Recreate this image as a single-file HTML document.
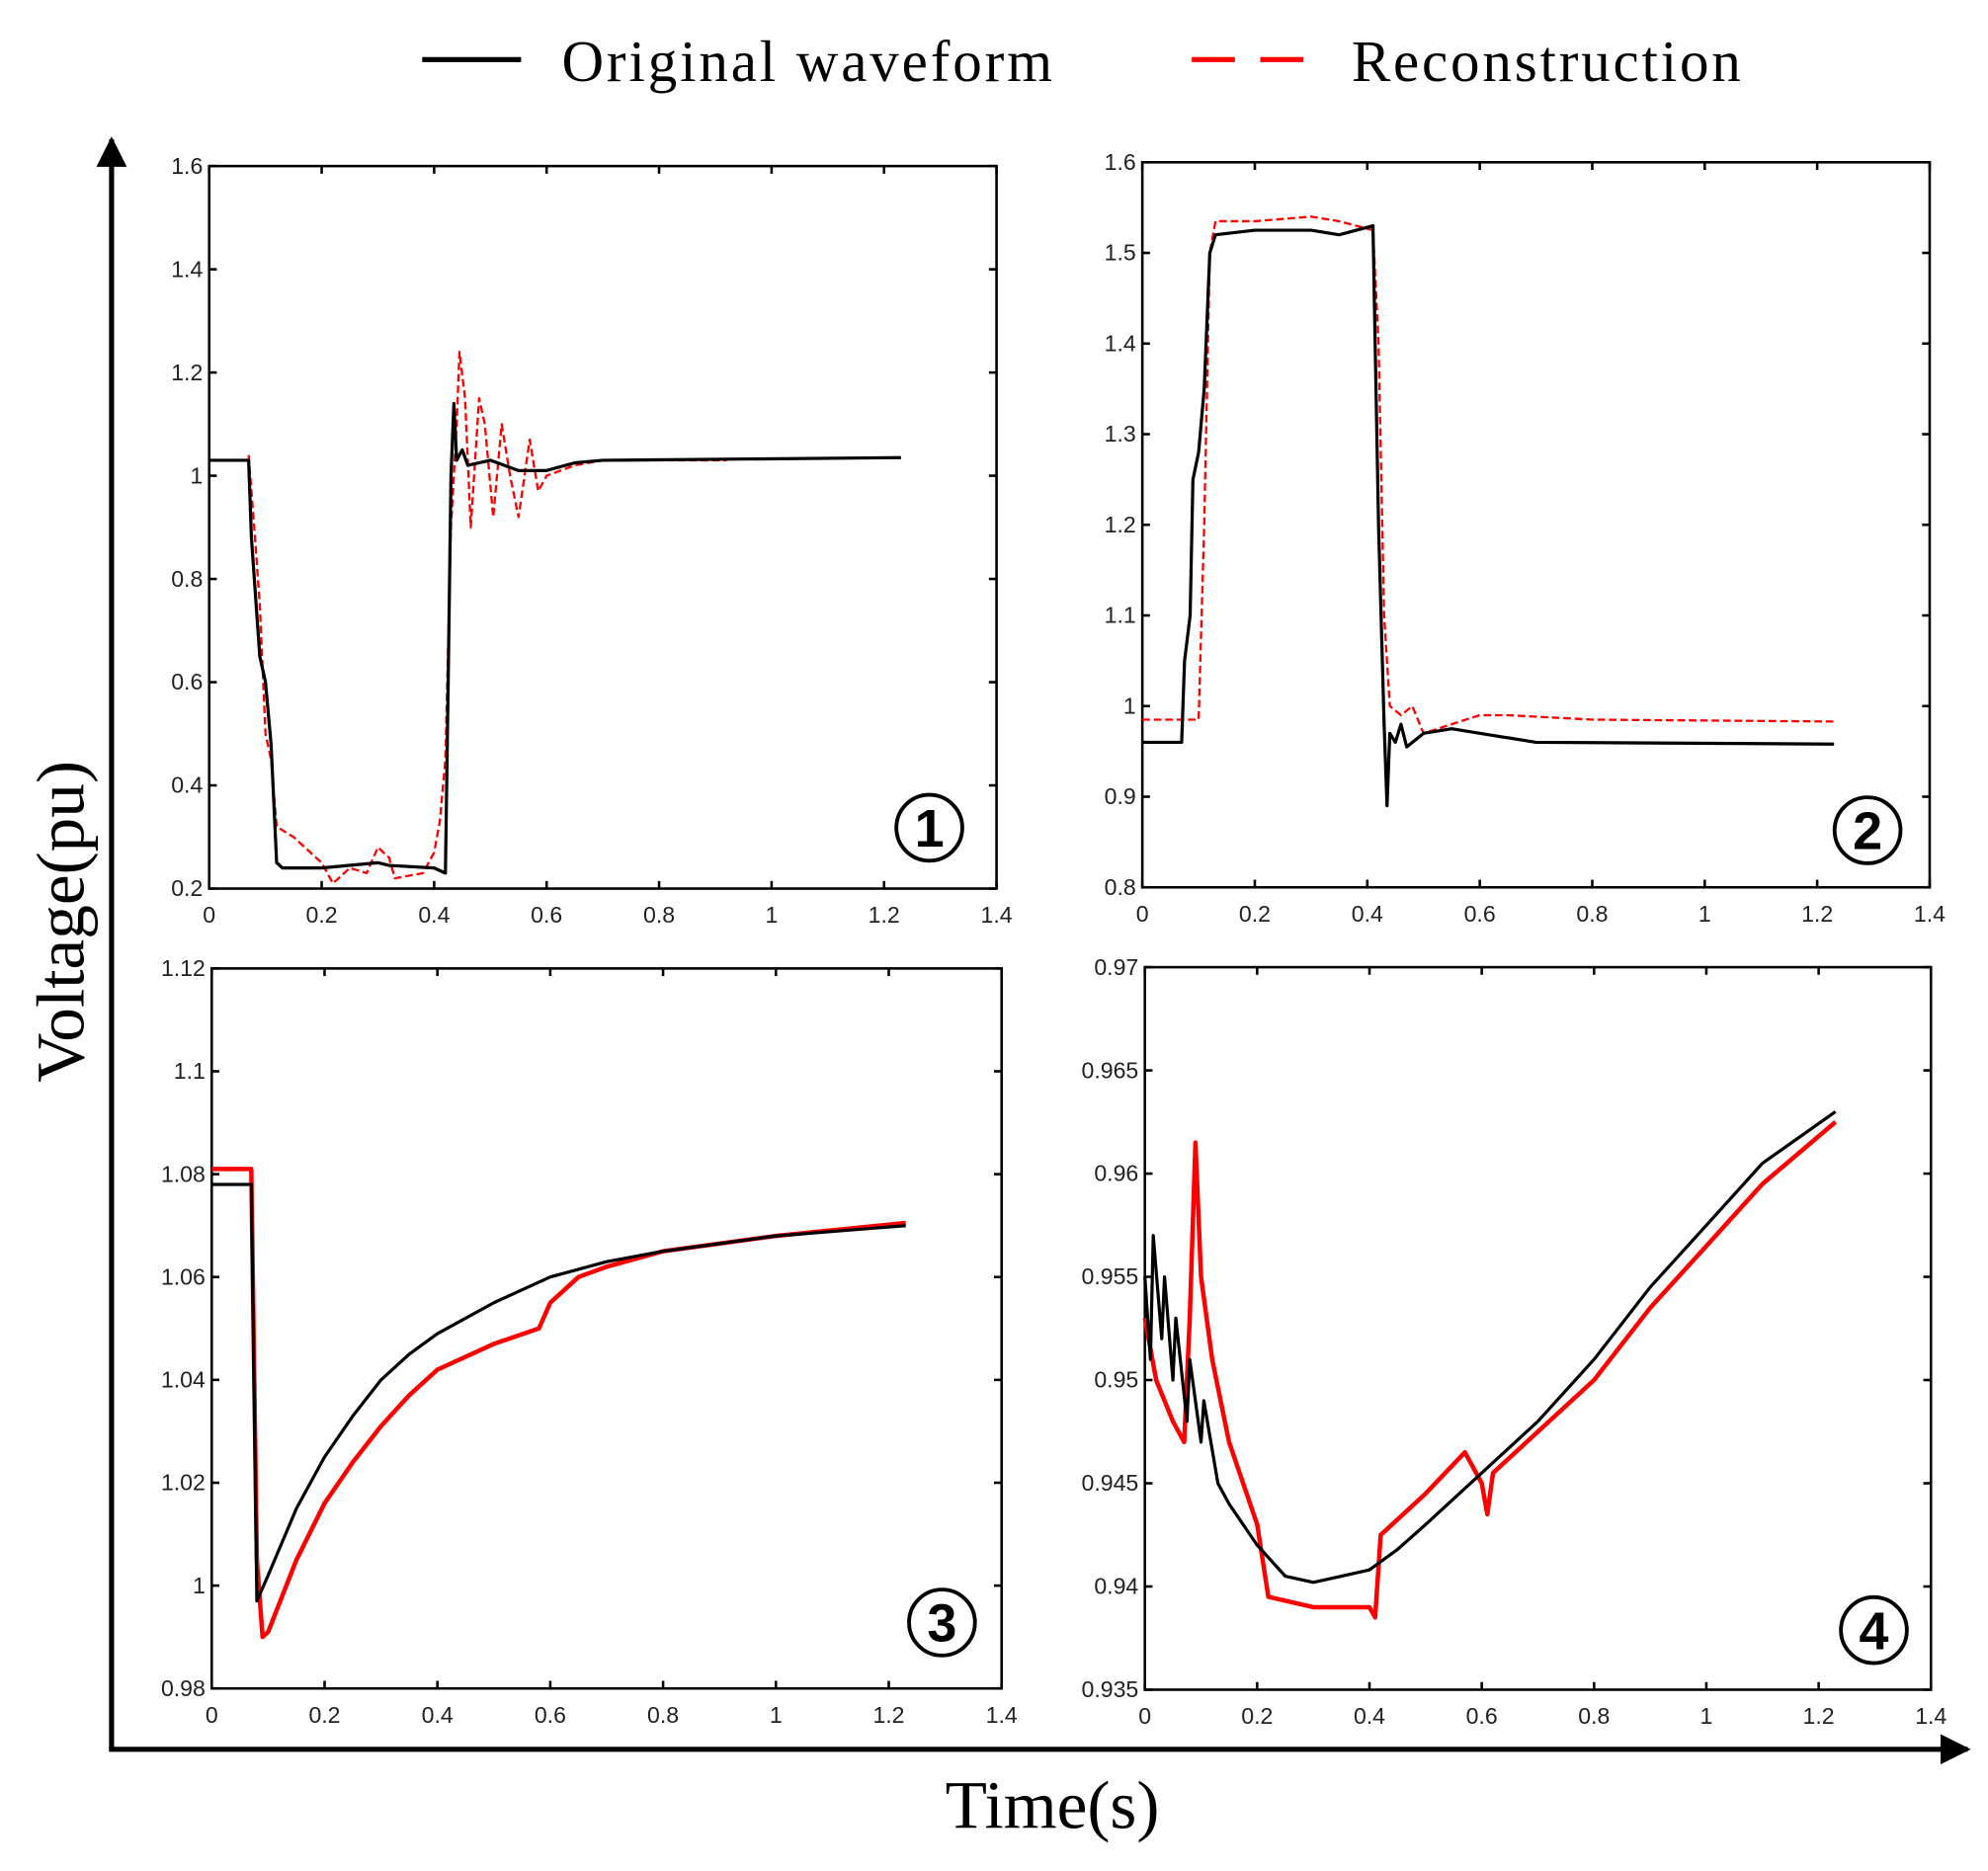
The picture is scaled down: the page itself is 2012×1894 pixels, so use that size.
<!DOCTYPE html>
<html><head><meta charset="utf-8"><style>
html,body{margin:0;padding:0;background:#fff;}
svg{display:block;}
text{font-family:"Liberation Sans",Arial,sans-serif;}
.serif{font-family:"Liberation Serif","Times New Roman",serif;}
</style></head><body>
<svg id="fig" width="2012" height="1894" viewBox="0 0 1568 1476" xmlns="http://www.w3.org/2000/svg">
<defs>
<marker id="ah" viewBox="0 0 10 10" refX="9" refY="5" markerWidth="6" markerHeight="6" orient="auto"><path d="M0,0 L10,5 L0,10 z" fill="#000"/></marker>
</defs>
<g>
<line x1="333" y1="47" x2="411" y2="47" stroke="#000" stroke-width="4"/>
<text x="443" y="64" class="serif" font-size="46" textLength="387" lengthAdjust="spacing">Original waveform</text>
<line x1="940" y1="47" x2="1043" y2="47" stroke="#f00" stroke-width="4" stroke-dasharray="34,20"/>
<text x="1066" y="64" class="serif" font-size="46" textLength="307" lengthAdjust="spacing">Reconstruction</text>
</g>
<line x1="88" y1="1380" x2="88" y2="110" stroke="#000" stroke-width="4" marker-end="url(#ah)"/>
<line x1="86" y1="1380" x2="1552" y2="1380" stroke="#000" stroke-width="4" marker-end="url(#ah)"/>
<text x="0" y="0" class="serif" font-size="54" text-anchor="middle" transform="translate(66,727) rotate(-90)">Voltage(pu)</text>
<text x="830" y="1442" class="serif" font-size="54" text-anchor="middle">Time(s)</text>
<g id="plots"></g>
</svg>
<script>
// Panel 1 data
const p1Black = [[0,1.03],[0.07,1.03],[0.075,0.88],[0.09,0.65],[0.1,0.6],[0.11,0.48],[0.12,0.25],[0.13,0.24],[0.2,0.24],[0.3,0.25],[0.32,0.245],[0.4,0.24],[0.42,0.23],[0.425,0.6],[0.43,1.0],[0.435,1.14],[0.44,1.03],[0.45,1.05],[0.46,1.02],[0.5,1.03],[0.55,1.01],[0.6,1.01],[0.65,1.025],[0.7,1.03],[1.23,1.035]];
const p1Red = [[0.07,1.04],[0.08,0.9],[0.09,0.75],[0.1,0.5],[0.11,0.45],[0.12,0.32],[0.15,0.3],[0.2,0.25],[0.22,0.21],[0.25,0.24],[0.28,0.23],[0.3,0.28],[0.32,0.26],[0.33,0.22],[0.38,0.23],[0.4,0.27],[0.41,0.33],[0.42,0.45],[0.43,0.9],[0.44,1.1],[0.445,1.24],[0.455,1.15],[0.465,0.9],[0.48,1.15],[0.49,1.1],[0.505,0.92],[0.52,1.1],[0.535,1.0],[0.55,0.92],[0.57,1.07],[0.585,0.97],[0.6,1.0],[0.65,1.02],[0.7,1.03],[0.8,1.03],[0.92,1.03]];
const p1YTicks = ["0.2","0.4","0.6","0.8","1","1.2","1.4","1.6"];
// Panel 2 data
const p2Black = [[0,0.96],[0.07,0.96],[0.075,1.05],[0.085,1.1],[0.09,1.25],[0.1,1.28],[0.11,1.35],[0.12,1.5],[0.13,1.52],[0.2,1.525],[0.3,1.525],[0.35,1.52],[0.41,1.53],[0.42,1.2],[0.43,0.98],[0.435,0.89],[0.44,0.97],[0.45,0.96],[0.46,0.98],[0.47,0.955],[0.5,0.97],[0.55,0.975],[0.6,0.97],[0.7,0.96],[1.23,0.958]];
const p2Red = [[0,0.985],[0.1,0.985],[0.11,1.2],[0.12,1.5],[0.13,1.535],[0.2,1.535],[0.3,1.54],[0.35,1.535],[0.41,1.525],[0.42,1.4],[0.43,1.1],[0.44,1.0],[0.46,0.99],[0.48,1.0],[0.5,0.97],[0.55,0.98],[0.6,0.99],[0.65,0.99],[0.8,0.985],[1.23,0.983]];
const p2YTicks = ["0.8","0.9","1","1.1","1.2","1.3","1.4","1.5","1.6"];
// Panel 3 data
const p3Black = [[0,1.078],[0.07,1.078],[0.08,0.997],[0.1,1.002],[0.15,1.015],[0.2,1.025],[0.25,1.033],[0.3,1.04],[0.35,1.045],[0.4,1.049],[0.5,1.055],[0.6,1.06],[0.7,1.063],[0.8,1.065],[1.0,1.068],[1.23,1.07]];
const p3Red = [[0,1.081],[0.07,1.081],[0.08,1.005],[0.09,0.99],[0.1,0.991],[0.15,1.005],[0.2,1.016],[0.25,1.024],[0.3,1.031],[0.35,1.037],[0.4,1.042],[0.5,1.047],[0.58,1.05],[0.6,1.055],[0.65,1.06],[0.7,1.062],[0.8,1.065],[1.0,1.068],[1.23,1.0705]];
const p3YTicks = ["0.98","1","1.02","1.04","1.06","1.08","1.1","1.12"];
// Panel 4 data
const p4Black = [[0,0.955],[0.01,0.951],[0.015,0.957],[0.03,0.952],[0.035,0.955],[0.05,0.95],[0.055,0.953],[0.075,0.948],[0.08,0.951],[0.1,0.947],[0.105,0.949],[0.13,0.945],[0.15,0.944],[0.2,0.942],[0.25,0.9405],[0.3,0.9402],[0.35,0.9405],[0.4,0.9408],[0.45,0.9418],[0.5,0.943],[0.6,0.9455],[0.7,0.948],[0.8,0.951],[0.9,0.9545],[1.0,0.9575],[1.1,0.9605],[1.23,0.963]];
const p4Red = [[0,0.953],[0.02,0.95],[0.05,0.948],[0.07,0.947],[0.08,0.953],[0.09,0.9615],[0.1,0.955],[0.12,0.951],[0.15,0.947],[0.2,0.943],[0.22,0.9395],[0.3,0.939],[0.4,0.939],[0.41,0.9385],[0.42,0.9425],[0.5,0.9445],[0.57,0.9465],[0.6,0.945],[0.61,0.9435],[0.62,0.9455],[0.7,0.9475],[0.8,0.95],[0.9,0.9535],[1.0,0.9565],[1.1,0.9595],[1.23,0.9625]];
const p4YTicks = ["0.935","0.94","0.945","0.95","0.955","0.96","0.965","0.97"];
const xTicks = ["0","0.2","0.4","0.6","0.8","1","1.2","1.4"];

const NS = "http://www.w3.org/2000/svg";
const root = document.getElementById('plots');
function mk(tag, attrs, parent){const e=document.createElementNS(NS,tag);for(const k in attrs)e.setAttribute(k,attrs[k]);parent.appendChild(e);return e;}

const panels = [
 {id:1,x0:165,x1:786,y0:131,y1:701,yt:p1YTicks,black:p1Black,red:p1Red,redW:1.8,redDash:"6,3",label:"1",cx:733,cy:653},
 {id:2,x0:901,x1:1522,y0:128,y1:700,yt:p2YTicks,black:p2Black,red:p2Red,redW:1.8,redDash:"6,3",label:"2",cx:1473,cy:655},
 {id:3,x0:167,x1:790,y0:764,y1:1332,yt:p3YTicks,black:p3Black,red:p3Red,redW:3.5,redDash:"none",label:"3",cx:743,cy:1280},
 {id:4,x0:903,x1:1523,y0:763,y1:1333,yt:p4YTicks,black:p4Black,red:p4Red,redW:3.5,redDash:"none",label:"4",cx:1478,cy:1286}
];

panels.forEach(p=>{
  const g = mk('g',{},root);
  
  
  const ymin=parseFloat(p.yt[0]), ymax=parseFloat(p.yt[p.yt.length-1]);
  const xmin=parseFloat(xTicks[0]), xmax=parseFloat(xTicks[xTicks.length-1]);
  const sx=v=>p.x0+(v-xmin)/(xmax-xmin)*(p.x1-p.x0);
  const sy=v=>p.y1-(v-ymin)/(ymax-ymin)*(p.y1-p.y0);
  const frame = mk('rect',{x:p.x0,y:p.y0,width:p.x1-p.x0,height:p.y1-p.y0,fill:'none',stroke:'#000','stroke-width':2},g);
  
  
  xTicks.forEach(t=>{
    const x=sx(parseFloat(t));
    mk('line',{x1:x,y1:p.y1,x2:x,y2:p.y1-6,stroke:'#000','stroke-width':2},g);
    mk('line',{x1:x,y1:p.y0,x2:x,y2:p.y0+6,stroke:'#000','stroke-width':2},g);
    const tx=mk('text',{x:x,y:p.y1+27,'font-size':18,'text-anchor':'middle',fill:'#222'},g);
    tx.textContent=t;
    
    
  });
  p.yt.forEach(t=>{
    const y=sy(parseFloat(t));
    mk('line',{x1:p.x0,y1:y,x2:p.x0+6,y2:y,stroke:'#000','stroke-width':2},g);
    mk('line',{x1:p.x1,y1:y,x2:p.x1-6,y2:y,stroke:'#000','stroke-width':2},g);
    const ty=mk('text',{x:p.x0-5,y:y+6,'font-size':18,'text-anchor':'end',fill:'#222'},g);
    ty.textContent=t;
    
    
  });
  const pts=a=>a.map(d=>sx(d[0]).toFixed(1)+','+sy(d[1]).toFixed(1)).join(' ');
  const red=mk('polyline',{points:pts(p.red),fill:'none',stroke:'#f00','stroke-width':p.redW,'stroke-dasharray':p.redDash,'stroke-linejoin':'round'},g);
  
  
  const blk=mk('polyline',{points:pts(p.black),fill:'none',stroke:'#000','stroke-width':2.5,'stroke-linejoin':'round'},g);
  
  
  const lg=mk('g',{},g);
  
  
  mk('circle',{cx:p.cx,cy:p.cy,r:26,fill:'none',stroke:'#000','stroke-width':3},lg);
  const lb=mk('text',{x:p.cx,y:p.cy+15,'font-size':42,'font-weight':'bold','text-anchor':'middle'},lg);
  lb.textContent=p.label;
});
</script>
</body></html>
